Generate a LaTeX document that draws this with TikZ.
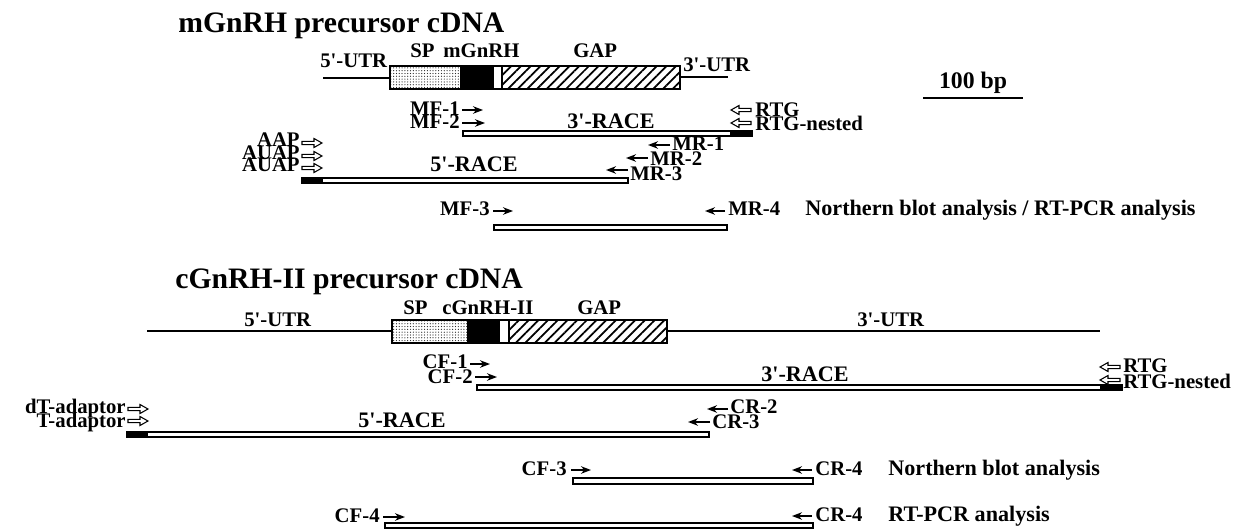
\documentclass[tikz,border=0pt]{standalone}
\usepackage{fontspec}
\setmainfont{Liberation Serif}
\usetikzlibrary{arrows.meta, patterns.meta}

\newcommand{\ap}{\textquotesingle}

\begin{document}
\begin{tikzpicture}[
    x=0.2mm, y=-0.2mm,
    every node/.style={inner sep=0pt, font=\bfseries\fontsize{11.8}{12}\selectfont},
    title/.style={anchor=base west, font=\bfseries\fontsize{16.9}{18}\selectfont},
    big/.style={font=\bfseries\fontsize{12.6}{13}\selectfont},
    lbl/.style={anchor=base west},
    lblr/.style={anchor=base east},
    utr/.style={line width=1.7pt},
    frame/.style={line width=0.6pt},
    bar/.style={draw, line width=0.6pt, fill=white},
    sp/.style={pattern={Dots[distance=1.6pt, radius=0.35pt]}, pattern color=black!85},
    gap/.style={pattern={Lines[angle=45, distance=3.9pt, line width=1pt]}},
    fwd/.style={-{Stealth[length=2mm, width=1.5mm]}, line width=1.2pt},
    openl/.pic={\draw[line width=0.6pt, fill=white] (0,0) -- (8,-4.5) -- (8,-1.6) -- (20,-1.6) -- (20,1.6) -- (8,1.6) -- (8,4.5) -- cycle;},
    openr/.pic={\draw[line width=0.6pt, fill=white] (0,0) -- (-8,-4.5) -- (-8,-1.6) -- (-20,-1.6) -- (-20,1.6) -- (-8,1.6) -- (-8,4.5) -- cycle;}
]
\useasboundingbox (0,0) rectangle (1240,529);

% mGnRH precursor
\node[title] (mtitle) at (178,33) {mGnRH precursor cDNA};
\draw[utr] (323,78) -- (390,78);
\draw[utr] (680,77) -- (728,77);
\fill[sp] (390,66) rectangle (460,89);
\fill (460,66) rectangle (494,89);
\fill[gap] (502,66) rectangle (680,89);
\draw[frame] (390,66) rectangle (680,89);
\draw[frame] (502,66) -- (502,89);
\node[lbl] (m5utr) at (320,68) {5\ap-UTR};
\node[lbl] (msp) at (410,58) {SP};
\node[lbl] (mpep) at (443,58) {mGnRH};
\node[lbl] (mgap) at (573,58) {GAP};
\node[lbl] (m3utr) at (683,72) {3\ap-UTR};

% scale
\node[anchor=base, font=\bfseries\fontsize{13.5}{14}\selectfont] (scale) at (973,88) {100 bp};
\draw[utr] (923,98) -- (1023,98);

% 3'-RACE
\draw[bar] (463,131) rectangle (752,136);
\fill (730,131) rectangle (752,136);
\node[lbl, big] (m3race) at (567,128) {3\ap-RACE};
\node[lblr] (mf1) at (460,115) {MF-1};
\node[lblr] (mf2) at (460,128) {MF-2};
\draw[fwd] ([shift={(2,-5)}]mf1.base east) -- ++(21,0);
\draw[fwd] ([shift={(2,-5)}]mf2.base east) -- ++(23,0);
\node[lbl] (mrtg) at (755,116) {RTG};
\node[lbl] (mrtgn) at (755,131) {RTG-nested};
\pic at ([shift={(-24,-6)}]mrtg.base west) {openl};
\pic at ([shift={(-24,-8)}]mrtgn.base west) {openl};

% 5'-RACE
\draw[bar] (302,178) rectangle (628,183);
\fill (302,178) rectangle (323,183);
\node[lbl, big] (m5race) at (430,172) {5\ap-RACE};
\node[lbl] (mr1) at (672,150) {MR-1};
\node[lbl] (mr2) at (650,165) {MR-2};
\node[lbl] (mr3) at (630,180) {MR-3};
\draw[fwd] ([shift={(-2,-5)}]mr1.base west) -- ++(-22,0);
\draw[fwd] ([shift={(-2,-7)}]mr2.base west) -- ++(-22,0);
\draw[fwd] ([shift={(-2,-10)}]mr3.base west) -- ++(-22,0);
\node[lblr] (aap) at (300,147) {AAP};
\node[lblr] (auap) at (300,160) {AUAP};
\node[lblr] (auapb) at (300,172) {AUAP};
\pic at ([shift={(22,-4)}]aap.base east) {openr};
\pic at ([shift={(22,-4)}]auap.base east) {openr};
\pic at ([shift={(22,-4)}]auapb.base east) {openr};

% Northern / RT-PCR
\draw[bar] (494,225) rectangle (727,230);
\node[lblr] (mf3) at (490,215) {MF-3};
\node[lbl] (mr4) at (728,215) {MR-4};
\draw[fwd] ([shift={(3,-4)}]mf3.base east) -- ++(20,0);
\draw[fwd] ([shift={(-3,-4)}]mr4.base west) -- ++(-20,0);
\node[lbl, big] (manal) at (805,215) {Northern blot analysis / RT-PCR analysis};

% cGnRH-II precursor
\node[title] (ctitle) at (175,288) {cGnRH-II precursor cDNA};
\draw[utr] (147,331) -- (392,331);
\draw[utr] (667,331) -- (1100,331);
\fill[sp] (392,320) rectangle (467,343);
\fill (467,320) rectangle (500,343);
\fill[gap] (509,320) rectangle (667,343);
\draw[frame] (392,320) rectangle (667,343);
\draw[frame] (509,320) -- (509,343);
\node[lbl] (c5utr) at (244,326) {5\ap-UTR};
\node[lbl] (csp) at (403,314) {SP};
\node[lbl] (cpep) at (442,314) {cGnRH-II};
\node[lbl] (cgap) at (577,314) {GAP};
\node[lbl] (c3utr) at (857,326) {3\ap-UTR};

% 3'-RACE
\draw[bar] (477,385) rectangle (1122,390);
\fill (1100,385) rectangle (1122,390);
\node[lbl, big] (c3race) at (761,381) {3\ap-RACE};
\node[lblr] (cf1) at (468,368) {CF-1};
\node[lblr] (cf2) at (473,383) {CF-2};
\draw[fwd] ([shift={(2,-4)}]cf1.base east) -- ++(20,0);
\draw[fwd] ([shift={(2,-6)}]cf2.base east) -- ++(22,0);
\node[lbl] (crtg) at (1123,372) {RTG};
\node[lbl] (crtgn) at (1123,388) {RTG-nested};
\pic at ([shift={(-23,-5)}]crtg.base west) {openl};
\pic at ([shift={(-23,-8)}]crtgn.base west) {openl};

% 5'-RACE
\draw[bar] (127,432) rectangle (709,437);
\fill (127,432) rectangle (148,437);
\node[lbl, big] (c5race) at (358,427) {5\ap-RACE};
\node[lblr] (dtad) at (126,413) {dT-adaptor};
\node[lblr] (tad) at (126,427) {T-adaptor};
\pic at ([shift={(22,-4)}]dtad.base east) {openr};
\pic at ([shift={(22,-6)}]tad.base east) {openr};
\node[lbl] (cr2) at (730,413) {CR-2};
\node[lbl] (cr3) at (712,428) {CR-3};
\draw[fwd] ([shift={(-2,-4)}]cr2.base west) -- ++(-21,0);
\draw[fwd] ([shift={(-2,-6)}]cr3.base west) -- ++(-22,0);

% Northern blot
\draw[bar] (573,478) rectangle (813,484);
\node[lblr] (cf3) at (567,475) {CF-3};
\node[lbl] (cr4) at (815,475) {CR-4};
\draw[fwd] ([shift={(4,-5)}]cf3.base east) -- ++(20,0);
\draw[fwd] ([shift={(-3,-5)}]cr4.base west) -- ++(-20,0);
\node[lbl, big] (cnorth) at (888,475) {Northern blot analysis};

% RT-PCR
\draw[bar] (385,523) rectangle (813,528);
\node[lblr] (cf4) at (380,522) {CF-4};
\node[lbl] (cr4b) at (815,521) {CR-4};
\draw[fwd] ([shift={(3,-5)}]cf4.base east) -- ++(22,0);
\draw[fwd] ([shift={(-3,-5)}]cr4b.base west) -- ++(-20,0);
\node[lbl, big] (crt) at (888,521) {RT-PCR analysis};

\end{tikzpicture}
\end{document}
